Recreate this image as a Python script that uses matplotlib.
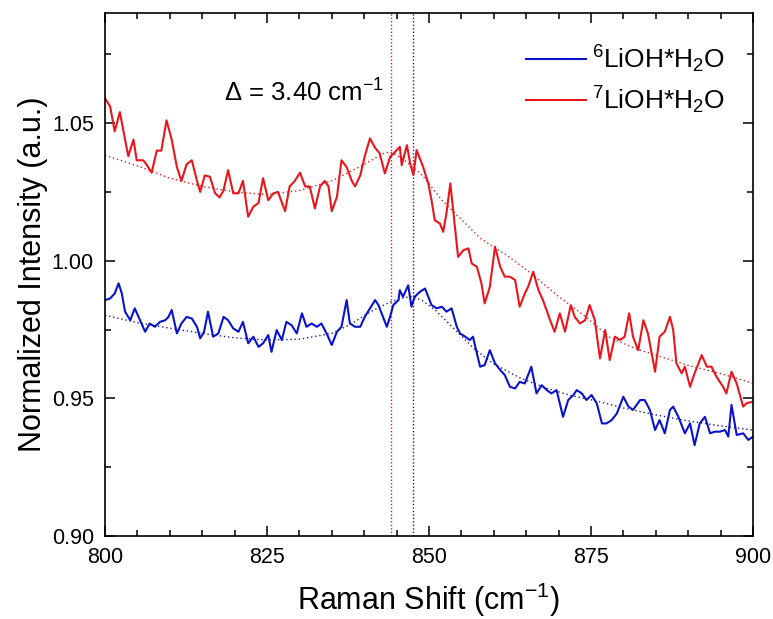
import matplotlib
matplotlib.use("Agg")
import matplotlib.pyplot as plt
from matplotlib.ticker import MultipleLocator

plt.rcParams['font.family'] = ['Liberation Sans', 'DejaVu Sans']
plt.rcParams['mathtext.fontset'] = 'custom'
plt.rcParams['mathtext.rm'] = 'Liberation Sans'
plt.rcParams['mathtext.it'] = 'Liberation Sans:italic'
plt.rcParams['mathtext.bf'] = 'Liberation Sans:bold'

# ---- data ----
red_x = [800.0, 800.8, 801.5, 802.3, 803.1, 803.6, 804.4, 804.9, 805.9, 806.4, 807.2, 808.0, 808.7, 809.5,
         810.3, 811.1, 811.8, 812.6, 813.4, 814.2, 814.7, 815.4, 816.2, 817.0, 817.7, 818.3, 819.0, 819.8,
         820.6, 821.3, 822.1, 822.9, 823.7, 824.4, 825.2, 826.0, 826.7, 827.8, 828.5, 829.3, 830.1, 830.9,
         831.6, 832.4, 833.2, 833.9, 834.5, 835.0, 835.8, 836.5, 837.3, 838.1, 838.6, 839.4, 840.1, 840.9,
         841.7, 842.4, 843.2, 844.0, 844.8, 845.5, 845.8, 846.6, 847.1, 847.6, 848.1, 848.6, 849.1, 849.9,
         850.4, 850.9, 851.7, 852.2, 852.7, 853.3, 854.0, 854.5, 855.3, 856.1, 856.6, 857.4, 858.1, 858.6,
         859.4, 860.2, 861.0, 861.7, 862.5, 863.3, 864.0, 864.8, 865.3, 866.1, 866.9, 867.6, 868.7, 869.4,
         870.2, 871.0, 871.9, 872.5, 873.3, 874.1, 874.8, 875.6, 876.4, 877.2, 877.9, 878.7, 879.5, 880.2,
         880.9, 881.5, 882.3, 883.1, 883.8, 884.9, 885.6, 886.4, 887.2, 887.7, 888.2, 889.0, 889.5, 890.3,
         891.0, 892.1, 892.9, 893.6, 894.4, 895.4, 895.9, 896.7, 897.5, 898.5, 899.0, 900.0]
red_y = [1.059, 1.056, 1.047, 1.054, 1.044, 1.038, 1.044, 1.0365, 1.0365, 1.035, 1.032, 1.040, 1.040, 1.051,
         1.044, 1.034, 1.029, 1.035, 1.0365, 1.029, 1.025, 1.031, 1.0305, 1.0245, 1.023, 1.0256, 1.0329, 1.0245,
         1.0245, 1.029, 1.016, 1.0196, 1.021, 1.030, 1.022, 1.0245, 1.025, 1.018, 1.027, 1.029, 1.032, 1.027,
         1.027, 1.019, 1.027, 1.029, 1.027, 1.018, 1.0232, 1.0365, 1.034, 1.029, 1.027, 1.031, 1.038, 1.0444,
         1.041, 1.039, 1.0317, 1.0377, 1.0396, 1.0414, 1.0347, 1.0420, 1.0353, 1.0311, 1.0402, 1.0371, 1.0341, 1.0281,
         1.0220, 1.0147, 1.0135, 1.0105, 1.0172, 1.0281, 1.0123, 1.0014, 1.0038, 1.0045, 0.9990, 0.9978, 0.9918, 0.9845,
         0.9905, 1.0051, 0.9978, 0.9942, 0.9942, 0.9930, 0.9833, 0.9881, 0.9905, 0.9960, 0.9893, 0.9857, 0.9784, 0.9742,
         0.9809, 0.9742, 0.9839, 0.9796, 0.9772, 0.9784, 0.9839, 0.9784, 0.9645, 0.9748, 0.9639, 0.9724, 0.9712, 0.9724,
         0.9809, 0.9724, 0.9675, 0.9784, 0.9736, 0.9597, 0.9724, 0.9742, 0.9796, 0.9748, 0.9627, 0.9591, 0.9615, 0.9542,
         0.9591, 0.9657, 0.9615, 0.9615, 0.9578, 0.9542, 0.9518, 0.9597, 0.9554, 0.9470, 0.9482, 0.9488]

blue_x = [800.0, 800.8, 801.5, 802.1, 802.6, 803.1, 803.9, 804.6, 805.4, 806.2, 806.9, 807.7, 808.5, 809.3,
          809.8, 810.3, 811.1, 811.8, 812.6, 813.4, 814.2, 814.7, 815.3, 815.9, 816.7, 817.5, 818.3, 819.0,
          819.8, 820.6, 821.3, 822.1, 822.9, 823.7, 824.4, 825.2, 825.7, 826.5, 827.3, 828.0, 828.8, 829.6,
          830.4, 831.1, 831.9, 832.7, 833.4, 834.2, 835.0, 835.8, 836.5, 837.3, 837.8, 838.6, 839.4, 840.1,
          840.9, 841.7, 842.2, 842.7, 843.5, 844.0, 844.5, 845.3, 845.5, 846.0, 846.8, 847.3, 847.8, 848.6,
          849.4, 849.9, 850.4, 851.2, 852.0, 852.7, 853.5, 854.3, 854.8, 855.6, 856.3, 856.8, 857.4, 857.9,
          858.6, 859.4, 860.2, 861.0, 861.7, 862.5, 863.3, 864.0, 864.8, 865.8, 866.6, 867.4, 868.2, 868.9,
          869.7, 870.7, 871.5, 872.3, 872.8, 873.6, 874.3, 875.1, 875.9, 876.7, 877.4, 878.2, 879.0, 880.0,
          880.8, 881.5, 882.6, 883.3, 884.1, 884.9, 885.6, 886.4, 887.2, 887.7, 888.5, 889.5, 890.3, 891.0,
          891.8, 892.6, 893.4, 894.1, 894.9, 895.7, 896.2, 896.7, 897.5, 898.5, 899.3, 900.0]
blue_y = [0.9857, 0.9863, 0.9881, 0.9918, 0.9881, 0.9815, 0.9784, 0.9827, 0.9784, 0.9742, 0.9772, 0.9760, 0.9778, 0.9784,
          0.9796, 0.9821, 0.9736, 0.9772, 0.9796, 0.9790, 0.9760, 0.9718, 0.9742, 0.9815, 0.9724, 0.9736, 0.9796, 0.9784,
          0.9754, 0.9742, 0.9778, 0.9700, 0.9724, 0.9687, 0.9700, 0.9730, 0.9669, 0.9748, 0.9712, 0.9778, 0.9766, 0.9736,
          0.9809, 0.9760, 0.9772, 0.9760, 0.9772, 0.9736, 0.9694, 0.9742, 0.9760, 0.9857, 0.9772, 0.9760, 0.9760, 0.9796,
          0.9827, 0.9857, 0.9839, 0.9809, 0.9760, 0.9796, 0.9839, 0.9857, 0.9893, 0.9869, 0.9911, 0.9833, 0.9869, 0.9887,
          0.9899, 0.9869, 0.9839, 0.9827, 0.9833, 0.9815, 0.9827, 0.9760, 0.9736, 0.9724, 0.9712, 0.9724, 0.9663, 0.9615,
          0.9621, 0.9675, 0.9627, 0.9603, 0.9585, 0.9542, 0.9536, 0.9560, 0.9554, 0.9615, 0.9518, 0.9548, 0.9530, 0.9518,
          0.9530, 0.9433, 0.9494, 0.9512, 0.9530, 0.9518, 0.9494, 0.9512, 0.9482, 0.9409, 0.9409, 0.9421, 0.9445, 0.9506,
          0.9470, 0.9458, 0.9494, 0.9494, 0.9458, 0.9385, 0.9421, 0.9373, 0.9458, 0.9470, 0.9433, 0.9373, 0.9409, 0.9330,
          0.9409, 0.9433, 0.9373, 0.9379, 0.9379, 0.9385, 0.9361, 0.9476, 0.9367, 0.9373, 0.9349, 0.9361]

red_fit_x = [800, 805, 810, 815, 820, 825, 830, 835, 840, 843, 844, 846, 849, 852, 855, 858, 862,
             866, 870, 874, 878, 882, 886, 890, 895, 900]
red_fit_y = [1.0383, 1.0345, 1.0300, 1.0270, 1.0250, 1.0240, 1.0255, 1.0290, 1.0350, 1.0390, 1.0395,
             1.0370, 1.0310, 1.0220, 1.0150, 1.0080, 1.0020, 0.9950, 0.9870, 0.9800, 0.9720, 0.9680,
             0.9650, 0.9620, 0.9590, 0.9555]

blue_fit_x = [800, 805, 810, 815, 820, 825, 830, 835, 838, 841, 844, 846, 847.5, 849, 851, 854, 857,
              860, 864, 868, 872, 876, 880, 885, 890, 895, 900]
blue_fit_y = [0.9802, 0.9775, 0.9755, 0.9736, 0.9720, 0.9712, 0.9715, 0.9736, 0.9770, 0.9815, 0.9850,
              0.9865, 0.9870, 0.9855, 0.9820, 0.9750, 0.9680, 0.9625, 0.9575, 0.9538, 0.9510, 0.9490,
              0.9465, 0.9440, 0.9418, 0.9400, 0.9385]

red_peak = 844.1
blue_peak = 847.5
delta_text = r'$\Delta$ = 3.40 cm$^{\mathregular{-1}}$'
labels = [r'$^{\mathregular{6}}$LiOH*H$_{\mathregular{2}}$O', r'$^{\mathregular{7}}$LiOH*H$_{\mathregular{2}}$O']

blue_c = '#0A12CC'
red_c = '#E8161C'
blue_dot = '#1C1C8C'
red_dot = '#D42020'

fig = plt.figure(figsize=(7.73, 6.19), dpi=100)
ax = fig.add_axes([0.1358, 0.1341, 0.974 - 0.1358, 0.979 - 0.1341])

ax.axvline(red_peak, color=red_dot, ls=(0, (1, 1.5)), lw=1.0)
ax.axvline(blue_peak, color=blue_dot, ls=(0, (1, 1.5)), lw=1.0)

lb, = ax.plot(blue_x, blue_y, color=blue_c, lw=1.5, label=labels[0])
lr, = ax.plot(red_x, red_y, color=red_c, lw=1.5, label=labels[1])
ax.plot(blue_fit_x, blue_fit_y, color=blue_dot, ls=(0, (1, 2)), lw=1.0)
ax.plot(red_fit_x, red_fit_y, color=red_dot, ls=(0, (1, 2)), lw=1.0)

ax.set_xlim(800, 900)
ax.set_ylim(0.90, 1.09)
ax.xaxis.set_major_locator(MultipleLocator(25))
ax.xaxis.set_minor_locator(MultipleLocator(5))
ax.yaxis.set_major_locator(MultipleLocator(0.05))
ax.yaxis.set_minor_locator(MultipleLocator(0.025))
ax.yaxis.set_major_formatter(matplotlib.ticker.FormatStrFormatter('%.2f'))

ax.tick_params(which='both', direction='in', top=True, right=True, width=1.1, labelsize=15.5)
ax.tick_params(which='major', length=7, pad=8)
ax.tick_params(which='minor', length=4)
for s in ax.spines.values():
    s.set_linewidth(1.2)

ax.set_xlabel(r'Raman Shift (cm$^{\mathregular{-1}}$)', fontsize=22, labelpad=9)
ax.set_ylabel('Normalized Intensity (a.u.)', fontsize=22, labelpad=3)

ax.text(830.7, 1.0609, delta_text, fontsize=18.5, ha='center', va='center')

ax.legend(handles=[lb, lr], loc='upper right', bbox_to_anchor=(0.993, 0.987), frameon=False,
          fontsize=19, handlelength=2.3, handletextpad=0.2, labelspacing=0.35)

fig.savefig('out.png', dpi=100)
